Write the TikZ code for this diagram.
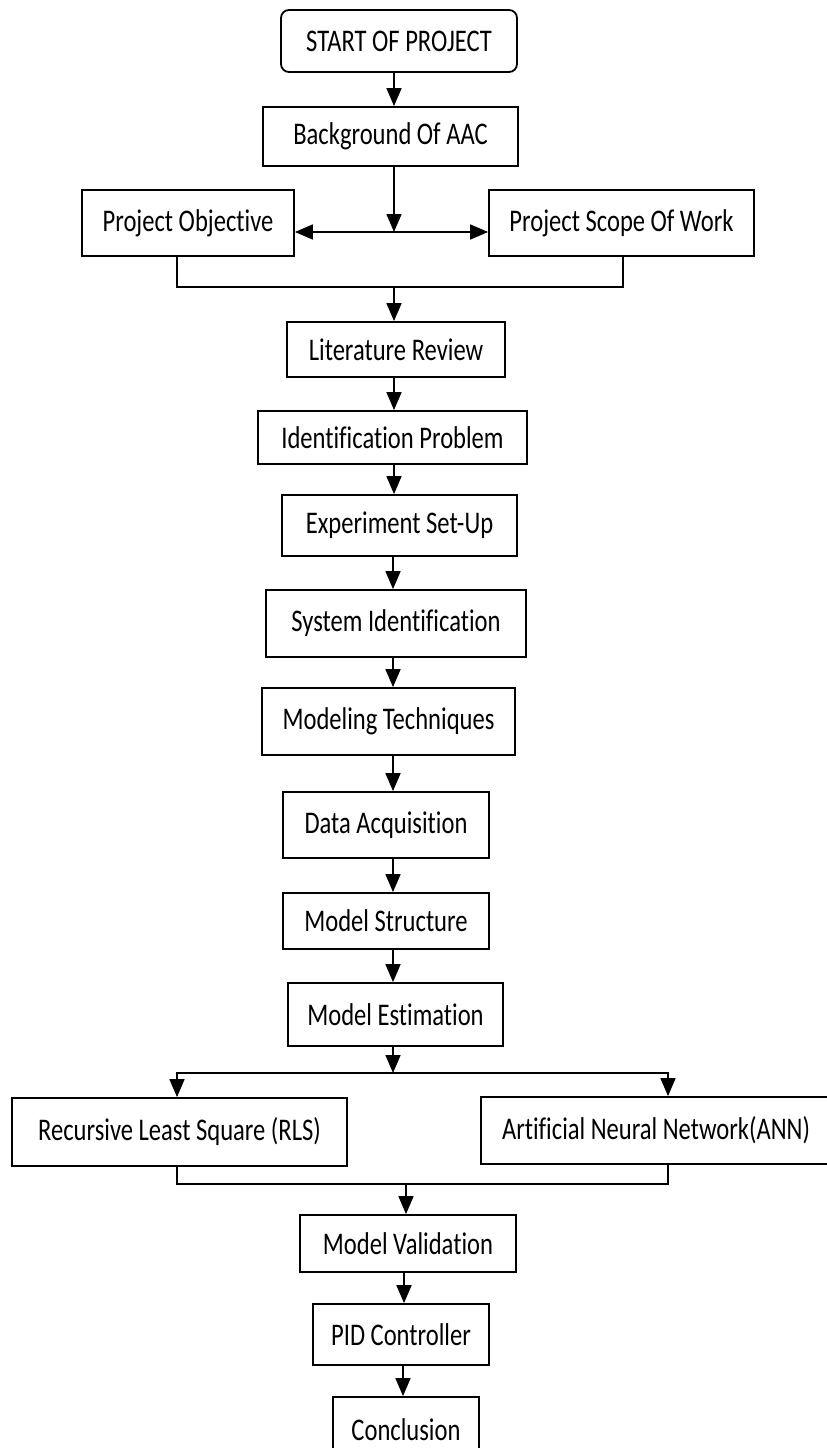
\documentclass[tikz,border=0pt]{standalone}
\usepackage{fontspec}
\setmainfont{Carlito}[FakeStretch=0.78,Ligatures={NoCommon,NoRequired,NoContextual}]
\usetikzlibrary{arrows.meta,positioning}

\begin{document}
\begin{tikzpicture}[x=1pt,y=-1pt,
  blk/.style={draw,line width=1.8pt,inner sep=0pt,font=\fontsize{31.5}{36}\selectfont},
  conn/.style={line width=1.6pt},
  thin/.style={line width=1.3pt},
  arr/.style={conn,-{Triangle[width=15pt,length=18pt]}},
  darr/.style={conn,{Triangle[width=15pt,length=18pt]}-{Triangle[width=15pt,length=18pt]}}]
\useasboundingbox (0,0) rectangle (827,1448);

% boxes
\node[blk,rounded corners=8pt,minimum width=236pt,minimum height=62pt] (start) at (399,41) {START OF PROJECT};
\node[blk,minimum width=255pt,minimum height=59pt] (bg) at (390.5,136.5) {Background Of AAC};
\node[blk,minimum width=212pt,minimum height=66pt] (obj) at (188,223) {Project Objective};
\node[blk,minimum width=265pt,minimum height=66pt] (scope) at (621.5,223) {Project Scope Of Work};
\node[blk,minimum width=218pt,minimum height=55pt] (lit) at (396,349.5) {Literature Review};
\node[blk,minimum width=269pt,minimum height=53pt] (idp) at (392.5,437.5) {Identification Problem};
\node[blk,minimum width=235pt,minimum height=61pt] (exp) at (399.5,525.5) {Experiment Set-Up};
\node[blk,minimum width=260pt,minimum height=67pt] (sysid) at (396,623.5) {System Identification};
\node[blk,minimum width=253pt,minimum height=67pt] (tech) at (388.5,721.5) {Modeling Techniques};
\node[blk,minimum width=206pt,minimum height=66pt] (daq) at (386,825) {Data Acquisition};
\node[blk,minimum width=206pt,minimum height=56pt] (mstruct) at (386,921) {Model Structure};
\node[blk,minimum width=215pt,minimum height=63pt] (mest) at (395.5,1014.5) {Model Estimation};
\node[blk,minimum width=335pt,minimum height=68pt] (rls) at (179.5,1132) {Recursive Least Square (RLS)};
\node[blk,minimum width=350pt,minimum height=67pt] (ann) at (656,1130.5) {Artificial Neural Network(ANN)};
\node[blk,minimum width=216pt,minimum height=57pt] (mval) at (408,1243.5) {Model Validation};
\node[blk,minimum width=176pt,minimum height=61pt] (pid) at (401,1334.5) {PID Controller};
\node[blk,minimum width=146pt,minimum height=66pt] (concl) at (406,1430) {Conclusion};

% junctions
\coordinate (jt) at (394,232);
\coordinate (mj) at (394,287);
\coordinate (sj) at (393,1073);
\coordinate (bj) at (406,1184);

\draw[arr] (start.south -| jt) -- (bg.north -| jt);
\draw[arr] (bg.south -| jt) -- (jt);
\draw[darr] (jt -| obj.east) -- (jt -| scope.west);
\draw[thin] ([xshift=-11pt]obj.south) |- (mj) -| ([xshift=1.5pt]scope.south);
\draw[arr] (mj) -- (mj |- lit.north);
\draw[arr] (lit.south -| mj) -- (mj |- idp.north);
\draw[arr] (idp.south -| mj) -- (mj |- exp.north);
\draw[arr] (exp.south -| sj) -- (sj |- sysid.north);
\draw[arr] (sysid.south -| sj) -- (sj |- tech.north);
\draw[arr] (tech.south -| sj) -- (sj |- daq.north);
\draw[arr] (daq.south -| sj) -- (sj |- mstruct.north);
\draw[arr] (mstruct.south -| sj) -- (sj |- mest.north);
\draw[arr] (mest.south -| sj) -- (sj);
\draw[arr] (sj) -| ([xshift=-2.5pt]rls.north);
\draw[arr] (sj) -| ([xshift=12pt]ann.north);
\draw[thin] ([xshift=-2.5pt]rls.south) |- (bj) -| ([xshift=12pt]ann.south);
\draw[arr] (bj) -- (bj |- mval.north);
\draw[arr] ([xshift=-4pt]mval.south) -- ([xshift=-4pt]mval.south |- pid.north);
\draw[arr] ([xshift=2pt]pid.south) -- ([xshift=2pt]pid.south |- concl.north);

\end{tikzpicture}
\end{document}
